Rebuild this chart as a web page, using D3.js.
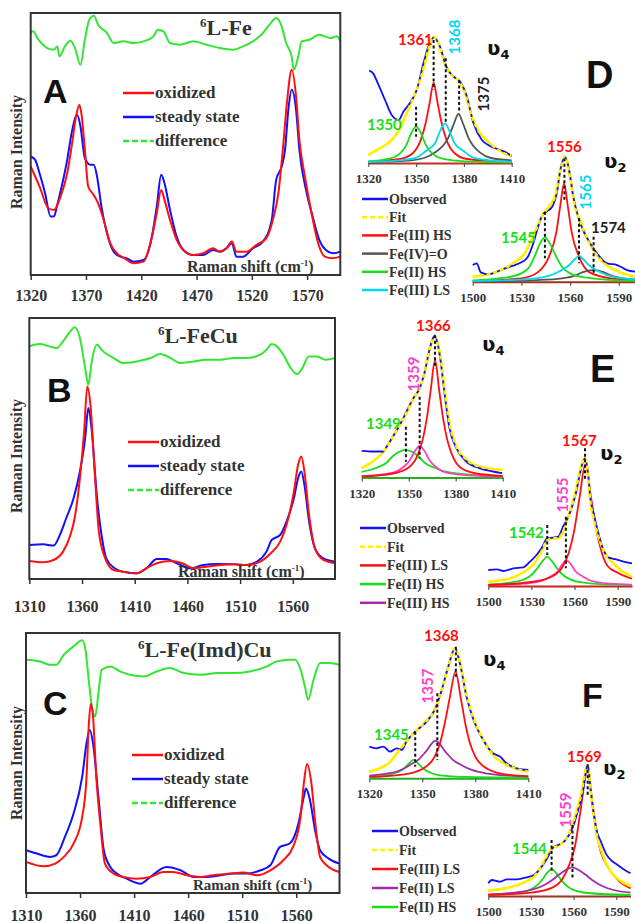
<!DOCTYPE html>
<html>
<head>
<meta charset="utf-8">
<script src="https://cdn.jsdelivr.net/npm/d3@7"></script>
<style>
  body { margin: 0; background: #fff; }
  svg { display: block; }
</style>
</head>
<body>
<script>
// ---------- main spectra (x = Raman shift cm-1, y = intensity, arbitrary units) ----------
const aOxidized = [[1320,325],[1328,265],[1336,200],[1341,195],[1347,235],[1353,305],[1357,385],[1361,475],[1364,510],[1366,480],[1369,375],[1372,265],[1377,240],[1381,215],[1386,165],[1392,95],[1398,65],[1405,50],[1413,35],[1422,40],[1429,105],[1434,185],[1438,255],[1441,225],[1446,165],[1452,105],[1458,75],[1467,60],[1476,65],[1485,80],[1491,70],[1497,80],[1502,100],[1506,70],[1515,70],[1524,90],[1533,110],[1539,165],[1544,245],[1548,375],[1552,525],[1556,615],[1560,535],[1563,405],[1568,295],[1574,185],[1580,95],[1586,55],[1593,50],[1600,55]];
const aSteady = [[1320,355],[1324,345],[1328,305],[1333,245],[1338,175],[1341,175],[1344,210],[1348,265],[1353,345],[1357,425],[1362,480],[1365,445],[1369,350],[1374,330],[1377,330],[1380,295],[1384,205],[1389,125],[1395,70],[1401,55],[1407,50],[1413,40],[1422,45],[1429,105],[1434,205],[1438,300],[1441,275],[1446,195],[1452,115],[1458,75],[1467,60],[1476,60],[1485,75],[1491,70],[1497,80],[1502,95],[1506,55],[1512,55],[1521,80],[1530,100],[1538,165],[1542,285],[1547,325],[1550,375],[1553,495],[1556,555],[1560,495],[1563,375],[1569,255],[1575,175],[1581,105],[1589,70],[1594,65],[1600,70]];
const aDiff = [[1320,725],[1322,730],[1327,705],[1335,680],[1341,675],[1344,685],[1346,655],[1351,685],[1356,702],[1360,680],[1365,630],[1369,705],[1373,765],[1377,777],[1381,750],[1389,725],[1395,695],[1404,700],[1413,695],[1422,700],[1431,715],[1435,735],[1440,730],[1446,695],[1455,690],[1467,700],[1479,690],[1491,680],[1503,675],[1512,685],[1521,700],[1530,725],[1536,750],[1542,770],[1547,745],[1551,695],[1556,655],[1558,615],[1562,655],[1565,700],[1572,705],[1581,720],[1591,710],[1597,715],[1600,700]];

const bOxidized = [[1310,54],[1323,50],[1333,57],[1342,82],[1349,132],[1353,182],[1358,302],[1362,442],[1365,577],[1368,522],[1372,322],[1376,142],[1382,62],[1390,27],[1399,22],[1412,17],[1421,32],[1431,47],[1444,54],[1455,47],[1466,32],[1478,37],[1491,42],[1504,44],[1516,42],[1529,52],[1539,77],[1548,112],[1554,162],[1561,262],[1565,342],[1568,367],[1571,322],[1575,202],[1581,92],[1589,57],[1600,47]];
const bSteady = [[1310,102],[1323,104],[1333,100],[1339,132],[1345,182],[1352,242],[1358,322],[1363,422],[1366,512],[1369,452],[1374,252],[1379,122],[1383,62],[1391,32],[1399,22],[1412,17],[1421,32],[1431,60],[1440,60],[1450,47],[1463,32],[1475,42],[1488,45],[1504,44],[1516,42],[1526,52],[1535,82],[1540,117],[1548,132],[1554,172],[1561,242],[1565,302],[1568,322],[1571,282],[1575,182],[1581,92],[1589,62],[1600,52]];
const bDiff = [[1310,697],[1320,704],[1329,697],[1336,692],[1342,712],[1349,742],[1353,754],[1358,722],[1363,632],[1366,582],[1369,647],[1374,702],[1380,682],[1390,662],[1399,647],[1412,652],[1425,662],[1434,674],[1444,662],[1453,647],[1466,652],[1478,657],[1491,657],[1504,662],[1516,662],[1529,672],[1535,687],[1540,704],[1545,697],[1551,672],[1557,637],[1564,614],[1569,632],[1575,667],[1583,667],[1591,657],[1600,662]];

const cOxidized = [[1310,93],[1326,80],[1337,88],[1345,108],[1354,148],[1362,228],[1366,348],[1368,498],[1370,566],[1372,528],[1375,348],[1379,198],[1383,88],[1391,58],[1400,48],[1412,43],[1425,48],[1437,63],[1446,63],[1459,53],[1471,48],[1483,53],[1499,58],[1511,61],[1524,53],[1536,68],[1548,98],[1557,138],[1564,228],[1567,328],[1570,386],[1574,328],[1578,198],[1582,108],[1588,83],[1600,63]];
const cSteady = [[1310,128],[1320,118],[1332,108],[1338,113],[1346,168],[1354,238],[1362,348],[1366,448],[1369,488],[1372,448],[1377,288],[1382,128],[1388,78],[1394,58],[1403,43],[1416,28],[1425,48],[1440,78],[1453,68],[1465,48],[1477,48],[1490,53],[1502,58],[1514,58],[1527,68],[1536,83],[1545,138],[1554,148],[1562,208],[1567,288],[1569,313],[1572,288],[1578,178],[1582,128],[1590,103],[1600,88]];
const cDiff = [[1310,698],[1323,693],[1332,683],[1338,683],[1345,713],[1354,738],[1362,756],[1365,728],[1368,638],[1371,558],[1374,528],[1377,598],[1380,668],[1388,678],[1397,663],[1406,653],[1419,648],[1431,663],[1443,673],[1456,658],[1471,653],[1487,658],[1502,658],[1517,663],[1533,678],[1542,693],[1554,698],[1559,698],[1564,668],[1568,618],[1571,578],[1576,638],[1582,688],[1591,688],[1600,683]];

const ticksAB = [1320, 1370, 1420, 1470, 1520, 1570];
const ticksBC = [1310, 1360, 1410, 1460, 1510, 1560];

// ---------- band fits ----------
const ticksV4 = [1320, 1350, 1380, 1410];
const ticksV2 = [1500, 1530, 1560, 1590];

// D, v4
const dV4Obs = [[1320.6,277],[1323,269],[1326,239],[1330.5,189],[1334.7,144],[1339,129],[1342,154],[1346,179],[1350.4,219],[1354.6,299],[1357.7,349],[1361.3,377],[1365,349],[1368.9,289],[1373.5,259],[1377.7,244],[1381.9,199],[1386,119],[1391.3,69],[1396,52],[1402.8,39],[1406,33],[1410,20]];
const dV4Fit = [[1320,24],[1325,38],[1330,52],[1336,76],[1340,105],[1345,160],[1350,215],[1355,290],[1358,345],[1361,379],[1364,360],[1368,300],[1372,265],[1376,250],[1380,220],[1385,140],[1390,90],[1395,65],[1400,45],[1405,30],[1410,22]];
const dV4FeIIIHS = [[1320,4],[1340,12],[1348,30],[1353,70],[1356,120],[1358.5,180],[1361,241],[1363.5,180],[1366,120],[1369,70],[1374,30],[1382,12],[1410,3]];
const dV4FeIVO = [[1320,2],[1345,7],[1355,15],[1362,32],[1370,74],[1373.5,115],[1376.6,147],[1379.7,115],[1383,74],[1390,32],[1397,15],[1410,8]];
const dV4FeIIHS = [[1320,5],[1330,10],[1338,22],[1344,55],[1347,90],[1350,109],[1353,90],[1356,55],[1362,22],[1370,10],[1385,4],[1410,2]];
const dV4FeIIILS = [[1320,3],[1340,8],[1350,16],[1356,35],[1362,60],[1365,95],[1368.2,119],[1371,95],[1374,60],[1380,35],[1386,16],[1396,8],[1410,4]];
const dV4Marks = [[1350,169,79],[1361,369,219],[1368.6,314,124],[1377,249,149]];

// D, v2
const dV2Obs = [[1500,50],[1502.5,55],[1505,28],[1510,22],[1515,30],[1520,40],[1525,48],[1530,58],[1534,75],[1537,110],[1540,160],[1543,200],[1546,212],[1549,225],[1552,270],[1554,335],[1556.8,375],[1559,345],[1562,255],[1565,195],[1568,155],[1572.4,115],[1576.6,85],[1582.8,55],[1589,50],[1595,35],[1600,30]];
const dV2Fit = [[1500,15],[1515,30],[1525,55],[1532,85],[1538,145],[1543,200],[1547,225],[1551,260],[1554,335],[1556.8,375],[1560,315],[1563,225],[1566,185],[1570,135],[1575,90],[1580,60],[1590,30],[1600,15]];
const dV2FeIIIHS = [[1500,2],[1530,10],[1540,28],[1547,75],[1551.5,147],[1554,230],[1556.3,295],[1558.5,230],[1561,147],[1565.5,75],[1572,28],[1585,10],[1600,5]];
const dV2FeIVO = [[1500,1],[1540,5],[1555,10],[1563,18],[1567.5,28],[1574.5,35],[1581,28],[1585.5,18],[1593,10],[1600,7]];
const dV2FeIIHS = [[1500,4],[1520,12],[1530,25],[1535,45],[1538.5,80],[1541.5,115],[1544.5,133],[1547.5,115],[1551,80],[1555,45],[1560,25],[1570,12],[1590,4],[1600,3]];
const dV2FeIIILS = [[1500,2],[1530,6],[1545,15],[1553,30],[1559.5,50],[1563,68],[1565.6,77],[1568,68],[1571.5,50],[1578,30],[1586,15],[1600,7]];
const dV2Marks = [[1544.5,210,70],[1556.5,370,240],[1565.5,190,55],[1574.5,135,20]];

// E, v4
const eV4Obs = [[1320,80],[1327.4,78],[1334,78],[1336,93],[1340,123],[1344.4,158],[1348.6,198],[1353,238],[1357,268],[1360.3,318],[1363.5,388],[1366.6,426],[1369.8,368],[1373,248],[1376,148],[1380.4,88],[1386.8,48],[1395,28],[1403.7,18],[1409.7,13]];
const eV4Fit = [[1320,28],[1327,48],[1334,78],[1340,123],[1345,163],[1349,198],[1353,238],[1357,268],[1360,313],[1363,378],[1366.5,423],[1370,368],[1373,258],[1376,163],[1380,98],[1387,53],[1395,33],[1410,23]];
const eV4FeIIILS = [[1320,3],[1340,12],[1350,30],[1356,70],[1359,115],[1361.5,176],[1364,260],[1366.8,353],[1369.5,260],[1372,176],[1374.5,115],[1377.5,70],[1383,30],[1393,12],[1410,5]];
const eV4FeIIHS = [[1320,17],[1330,30],[1336,45],[1339,60],[1343,75],[1348,83],[1353,75],[1357,60],[1360,45],[1366,30],[1376,15],[1390,8],[1410,4]];
const eV4FeIIIHS = [[1320,4],[1335,10],[1343,20],[1347,33],[1350.5,50],[1354,80],[1357,95],[1360,80],[1363.5,50],[1367,33],[1371,20],[1380,10],[1395,5],[1410,3]];
const eV4Marks = [[1348.2,152,47],[1357,242,57],[1366.8,427,327]];

// E, v2
const eV2Obs = [[1500,48],[1506,50],[1510.4,45],[1517.4,53],[1524.4,56],[1529,73],[1533.6,93],[1537,113],[1541,143],[1545,145],[1548.7,148],[1552,178],[1555.7,208],[1559,248],[1561.5,288],[1563.8,338],[1567.3,383],[1569.5,335],[1571,265],[1573.5,215],[1576.5,160],[1580,110],[1584,85],[1589,80],[1594,73],[1600,68]];
const eV2Fit = [[1500,13],[1515,23],[1525,43],[1532,68],[1537,103],[1541,138],[1545,143],[1548.5,143],[1552,163],[1556,213],[1560,268],[1563.5,340],[1567.3,383],[1569.5,330],[1571,255],[1573.5,200],[1576.5,150],[1581,100],[1587,68],[1593,45],[1600,28]];
const eV2FeIIILS = [[1500,3],[1530,12],[1545,30],[1552,60],[1556,100],[1559.5,160],[1563.5,265],[1567.5,365],[1571.5,265],[1575.5,160],[1579,100],[1583,60],[1590,40],[1600,22]];
const eV2FeIIHS = [[1500,4],[1515,10],[1525,20],[1530,33],[1534.5,55],[1538,76],[1541,88],[1544,76],[1547.5,55],[1552,33],[1557,20],[1567,10],[1585,4],[1600,3]];
const eV2FeIIIHS = [[1500,2],[1525,7],[1537,15],[1543,28],[1548.5,45],[1551.5,65],[1554.5,76],[1557.5,65],[1560.5,45],[1566,28],[1572,15],[1585,7],[1600,4]];
const eV2Marks = [[1541,183,93],[1554,208,53],[1567.3,413,318]];

// F, v4
const fV4Obs = [[1320,95],[1324,90],[1328,95],[1331.7,80],[1335.5,90],[1338.3,85],[1341,110],[1346,140],[1352.5,170],[1357,205],[1361,265],[1364.7,335],[1368.5,390],[1371.3,345],[1375,245],[1379,175],[1384.5,115],[1390,75],[1394,65],[1397.7,45],[1403.4,30],[1410,25]];
const fV4Fit = [[1320,20],[1326,30],[1332,50],[1337,85],[1341,110],[1346,140],[1352,170],[1357,205],[1361,265],[1365,340],[1368.5,390],[1372,330],[1375,250],[1379,180],[1385,110],[1391,65],[1400,35],[1410,20]];
const fV4FeIIILS = [[1320,4],[1340,12],[1350,28],[1357,65],[1360,105],[1362.5,160],[1365.5,240],[1368.8,320],[1371.8,240],[1374.5,160],[1377,105],[1380,65],[1387,28],[1397,12],[1410,6]];
const fV4FeIILS = [[1320,8],[1330,14],[1338,25],[1343,40],[1348,57],[1352,80],[1357.5,113],[1363,80],[1367,57],[1372,40],[1378,25],[1387,14],[1400,8],[1410,6]];
const fV4FeIIHS = [[1320,4],[1330,9],[1336,18],[1339,27],[1342,42],[1345,55],[1348,42],[1351,27],[1354,18],[1360,9],[1375,4],[1410,2]];
const fV4Marks = [[1346,140,35],[1358.5,255,55],[1369,395,305]];

// F, v2
const fV2Obs = [[1500,38],[1502.4,48],[1508.3,43],[1513,50],[1520,50],[1527,56],[1532,63],[1536.7,83],[1541.4,113],[1545,143],[1549,153],[1553.3,163],[1556.8,183],[1560.4,218],[1563.2,258],[1566.3,308],[1569.9,393],[1572,320],[1574,250],[1576,200],[1579.5,160],[1583,125],[1587,105],[1591,93],[1596,78],[1600,68]];
const fV2Fit = [[1500,16],[1515,26],[1525,40],[1532,58],[1537,86],[1541.5,123],[1545,143],[1549,150],[1553,163],[1557,188],[1561,238],[1565,298],[1569.9,393],[1572,315],[1574,245],[1576,190],[1580,130],[1585,80],[1590,55],[1595,40],[1600,30]];
const fV2FeIIILS = [[1500,3],[1530,10],[1545,25],[1552,50],[1557,95],[1561,150],[1565,260],[1569.5,375],[1573.5,270],[1578,150],[1584,88],[1591,48],[1600,23]];
const fV2FeIILS = [[1500,5],[1520,11],[1530,18],[1538,30],[1545,48],[1550,65],[1554.5,78],[1559,86],[1563.5,78],[1568,65],[1573,48],[1580,30],[1588,18],[1600,10]];
const fV2FeIIHS = [[1500,3],[1520,9],[1530,20],[1535,35],[1538.5,52],[1541.5,70],[1544.5,80],[1547.5,70],[1550.5,52],[1554,35],[1559,20],[1570,9],[1600,3]];
const fV2Marks = [[1544.5,168,68],[1559.2,213,48],[1569.9,395,300]];

// ---------- styles ----------
const RED = "#ff1010", BLUE = "#1010ff", LIME = "#33e633", YELLOW = "#ffee00";
const GREEN = "#19dd19", CYAN = "#00d8f0", GRAY = "#555555", MAGENTA = "#ff3cc8", PURPLE = "#a02ca8";
const SERIF = "'Liberation Serif', 'Times New Roman', serif";
const SANS = "'Liberation Sans', Arial, sans-serif";
const NUMF = "Lato, 'Open Sans', sans-serif";

const svg = d3.select("body").append("svg").attr("width", 635).attr("height", 923);

const curve = (x, y) => d3.line().x(d => x(d[0])).y(d => y(d[1])).curve(d3.curveMonotoneX);

// ---------- main panels ----------
const mainPanels = [
  { letter: "A", name: "L-Fe", ox: aOxidized, st: aSteady, diff: aDiff, dom: [1320, 1600], ticks: ticksAB,
    left: 30.7, right: 340.3, top: 13, bottom: 275, yMax: 785, tickGap: 26,
    titleX: 200, titleY: 35, letterX: 43, letterY: 103, legX: 123, legY: 93, shiftX: 187, shiftY: 272, shiftSize: 16, intY: 152 },
  { letter: "B", name: "L-FeCu", ox: bOxidized, st: bSteady, diff: bDiff, dom: [1310, 1600], ticks: ticksBC,
    left: 29.3, right: 335, top: 318, bottom: 579, yMax: 782, tickGap: 33,
    titleX: 158, titleY: 343, letterX: 47, letterY: 402, legX: 128, legY: 442, shiftX: 178, shiftY: 577, shiftSize: 16, intY: 456 },
  { letter: "C", name: "L-Fe(Imd)Cu", ox: cOxidized, st: cSteady, diff: cDiff, dom: [1310, 1600], ticks: ticksBC,
    left: 26, right: 339.5, top: 633, bottom: 893, yMax: 778, tickGap: 28,
    titleX: 138, titleY: 657, letterX: 43, letterY: 715, legX: 132, legY: 755, shiftX: 193, shiftY: 890, shiftSize: 15, intY: 763 }
];

mainPanels.forEach(p => {
  const x = d3.scaleLinear().domain(p.dom).range([p.left, p.right]);
  const y = d3.scaleLinear().domain([0, p.yMax]).range([p.bottom, p.top]);
  const g = svg.append("g");

  const ax = g.append("g")
    .attr("transform", `translate(0,${p.bottom})`)
    .call(d3.axisBottom(x).tickValues(p.ticks).tickSize(5).tickFormat(d3.format("d")));
  ax.select(".domain").remove();
  ax.selectAll(".tick line").attr("stroke", "#333").attr("stroke-width", 1.5);
  ax.selectAll(".tick text")
    .attr("y", p.tickGap).attr("dy", 0)
    .attr("font-family", SERIF).attr("font-weight", "bold").attr("font-size", 16).attr("fill", "#333");

  g.append("path").datum(p.diff).attr("d", curve(x, y)).attr("fill", "none").attr("stroke", LIME).attr("stroke-width", 2);
  g.append("path").datum(p.st).attr("d", curve(x, y)).attr("fill", "none").attr("stroke", BLUE).attr("stroke-width", 2);
  g.append("path").datum(p.ox).attr("d", curve(x, y)).attr("fill", "none").attr("stroke", RED).attr("stroke-width", 2);

  g.append("rect").attr("x", p.left).attr("y", p.top)
    .attr("width", p.right - p.left).attr("height", p.bottom - p.top)
    .attr("fill", "none").attr("stroke", "#333").attr("stroke-width", 2);

  // title with superscript 6
  const t = g.append("text").attr("x", p.titleX).attr("y", p.titleY)
    .attr("font-family", SERIF).attr("font-weight", "bold").attr("font-size", 22).attr("fill", "#333");
  t.append("tspan").text("6").attr("font-size", 13).attr("dy", -8);
  t.append("tspan").text(p.name).attr("dy", 8);

  g.append("text").text(p.letter).attr("x", p.letterX).attr("y", p.letterY)
    .attr("font-family", SANS).attr("font-weight", "bold").attr("font-size", 34).attr("fill", "#111");

  // legend
  const leg = [["oxidized", RED, null], ["steady state", BLUE, null], ["difference", LIME, "6,3"]];
  leg.forEach((l, i) => {
    const ly = p.legY + i * 24;
    g.append("line").attr("x1", p.legX).attr("x2", p.legX + 31).attr("y1", ly).attr("y2", ly)
      .attr("stroke", l[1]).attr("stroke-width", 2.5).attr("stroke-dasharray", l[2]);
    g.append("text").text(l[0]).attr("x", p.legX + 32).attr("y", ly + 5)
      .attr("font-family", SERIF).attr("font-weight", "bold").attr("font-size", 17).attr("fill", "#333");
  });

  const s = g.append("text").attr("x", p.shiftX).attr("y", p.shiftY)
    .attr("font-family", SERIF).attr("font-weight", "bold").attr("font-size", p.shiftSize).attr("fill", "#333");
  s.append("tspan").text("Raman shift (cm");
  s.append("tspan").text("-1").attr("font-size", 9).attr("dy", -6);
  s.append("tspan").text(")").attr("dy", 6);

  g.append("text").text("Raman Intensity")
    .attr("transform", `translate(22,${p.intY}) rotate(-90)`).attr("text-anchor", "middle")
    .attr("font-family", SERIF).attr("font-weight", "bold").attr("font-size", 16).attr("fill", "#333");
});

// ---------- fit panels ----------
const fitPanels = [
  { obs: dV4Obs, fit: dV4Fit, comps: [[dV4FeIIIHS, RED], [dV4FeIVO, GRAY], [dV4FeIIHS, GREEN], [dV4FeIIILS, CYAN]], marks: dV4Marks,
    dom: [1320, 1410], ticks: ticksV4, left: 368.3, right: 511.7, base: 163, baseColor: "#c03020", band: "4", bandX: 487, bandY: 55,
    labels: [["1361", RED, 398, 45, false], ["1368", CYAN, 460, 37, true], ["1375", "#222", 489, 94, true], ["1350", GREEN, 367, 130, false]] },
  { obs: dV2Obs, fit: dV2Fit, comps: [[dV2FeIIIHS, RED], [dV2FeIVO, GRAY], [dV2FeIIHS, GREEN], [dV2FeIIILS, CYAN]], marks: dV2Marks,
    dom: [1500, 1600], ticks: ticksV2, left: 472.7, right: 635, base: 281.7, baseColor: "#a03020", band: "2", bandX: 604, bandY: 168,
    labels: [["1556", RED, 547, 152, false], ["1565", CYAN, 591, 192, true], ["1574", "#222", 591, 233, false], ["1545", GREEN, 501, 243, false]] },
  { obs: eV4Obs, fit: eV4Fit, comps: [[eV4FeIIHS, GREEN], [eV4FeIIIHS, MAGENTA], [eV4FeIIILS, RED]], marks: eV4Marks,
    dom: [1320, 1410], ticks: ticksV4, left: 361.7, right: 502.7, base: 477.5, baseColor: "#20b020", band: "4", bandX: 482, bandY: 351,
    labels: [["1366", RED, 416, 331, false], ["1359", MAGENTA, 419, 374, true], ["1349", GREEN, 366, 429, false]] },
  { obs: eV2Obs, fit: eV2Fit, comps: [[eV2FeIIHS, GREEN], [eV2FeIIIHS, MAGENTA], [eV2FeIIILS, RED]], marks: eV2Marks,
    dom: [1500, 1600], ticks: ticksV2, left: 488.3, right: 632, base: 586, baseColor: "#d02020", band: "2", bandX: 600, bandY: 460,
    labels: [["1567", RED, 562, 446, false], ["1555", MAGENTA, 568, 495, true], ["1542", GREEN, 509, 538, false]] },
  { obs: fV4Obs, fit: fV4Fit, comps: [[fV4FeIIHS, GREEN], [fV4FeIILS, PURPLE], [fV4FeIIILS, RED]], marks: fV4Marks,
    dom: [1320, 1410], ticks: ticksV4, left: 369.3, right: 528.3, base: 778.3, baseColor: "#20b020", band: "4", bandX: 483, bandY: 666,
    labels: [["1368", RED, 424, 641, false], ["1357", MAGENTA, 433, 686, true], ["1345", GREEN, 374, 740, false]] },
  { obs: fV2Obs, fit: fV2Fit, comps: [[fV2FeIIHS, GREEN], [fV2FeIILS, PURPLE], [fV2FeIIILS, RED]], marks: fV2Marks,
    dom: [1500, 1600], ticks: ticksV2, left: 488.3, right: 630.5, base: 896, baseColor: "#a03020", band: "2", bandX: 603, bandY: 775,
    labels: [["1569", RED, 567, 762, false], ["1559", MAGENTA, 571, 810, true], ["1544", GREEN, 512, 854, false]] }
];

fitPanels.forEach(p => {
  const x = d3.scaleLinear().domain(p.dom).range([p.left, p.right]);
  const y = d3.scaleLinear().domain([0, 450]).range([p.base, p.base - 150]);
  const g = svg.append("g");

  const ax = g.append("g").attr("transform", `translate(0,${p.base})`)
    .call(d3.axisBottom(x).tickValues(p.ticks).tickSize(4).tickSizeOuter(0).tickFormat(d3.format("d")));
  ax.select(".domain").attr("stroke", p.baseColor).attr("stroke-width", 2);
  ax.selectAll(".tick line").attr("stroke", "#555").attr("stroke-width", 1.2);
  ax.selectAll(".tick text").attr("y", 20).attr("dy", 0)
    .attr("font-family", SERIF).attr("font-weight", "bold").attr("font-size", 13).attr("fill", "#333");

  p.comps.forEach(c => {
    g.append("path").datum(c[0]).attr("d", curve(x, y)).attr("fill", "none").attr("stroke", c[1]).attr("stroke-width", 1.8);
  });
  g.append("path").datum(p.fit).attr("d", curve(x, y)).attr("fill", "none").attr("stroke", YELLOW).attr("stroke-width", 2.5);
  g.append("path").datum(p.obs).attr("d", curve(x, y)).attr("fill", "none").attr("stroke", BLUE).attr("stroke-width", 1.8);
  g.append("path").datum(p.fit).attr("d", curve(x, y)).attr("fill", "none").attr("stroke", YELLOW)
    .attr("stroke-width", 2.5).attr("stroke-dasharray", "4,3");

  g.selectAll(".mark").data(p.marks).enter().append("line")
    .attr("x1", d => x(d[0])).attr("x2", d => x(d[0]))
    .attr("y1", d => y(d[1])).attr("y2", d => y(d[2]))
    .attr("stroke", "#111").attr("stroke-width", 2).attr("stroke-dasharray", "3,2.5");

  p.labels.forEach(l => {
    const t = g.append("text").text(l[0])
      .attr("font-family", NUMF).attr("font-weight", "bold").attr("font-size", 15).attr("fill", l[1]);
    if (l[4]) t.attr("transform", `translate(${l[2]},${l[3]}) rotate(-90)`).attr("text-anchor", "middle");
    else t.attr("x", l[2]).attr("y", l[3]);
  });

  const b = g.append("text").attr("x", p.bandX).attr("y", p.bandY)
    .attr("font-family", "'DejaVu Sans', sans-serif").attr("font-weight", "bold").attr("font-size", 20).attr("fill", "#111");
  b.append("tspan").text("\u028b");
  b.append("tspan").text(p.band).attr("font-size", 13).attr("dy", 4);
});

// ---------- fit legends and letters ----------
const legendD = [["Observed", BLUE, null], ["Fit", YELLOW, "5,3"], ["Fe(III) HS", RED, null], ["Fe(IV)=O", GRAY, null], ["Fe(II) HS", GREEN, null], ["Fe(III) LS", CYAN, null]];
const legendE = [["Observed", BLUE, null], ["Fit", YELLOW, "5,3"], ["Fe(III) LS", RED, null], ["Fe(II) HS", GREEN, null], ["Fe(III) HS", PURPLE, null]];
const legendF = [["Observed", BLUE, null], ["Fit", YELLOW, "5,3"], ["Fe(III) LS", RED, null], ["Fe(II) LS", PURPLE, null], ["Fe(II) HS", GREEN, null]];

[[legendD, 362, 199, 18.2], [legendE, 360, 528, 18.7], [legendF, 372, 831, 19]].forEach(([items, lx, ly, step]) => {
  items.forEach((it, i) => {
    const yy = ly + i * step;
    svg.append("line").attr("x1", lx).attr("x2", lx + 26).attr("y1", yy).attr("y2", yy)
      .attr("stroke", it[1]).attr("stroke-width", 2.5).attr("stroke-dasharray", it[2]);
    svg.append("text").text(it[0]).attr("x", lx + 27).attr("y", yy + 5)
      .attr("font-family", SERIF).attr("font-weight", "bold").attr("font-size", 14).attr("fill", "#333");
  });
});

[["D", 586, 88, 38], ["E", 590, 382, 38], ["F", 582, 707, 34]].forEach(l => {
  svg.append("text").text(l[0]).attr("x", l[1]).attr("y", l[2])
    .attr("font-family", SANS).attr("font-weight", "bold").attr("font-size", l[3]).attr("fill", "#111");
});
</script>
</body>
</html>
